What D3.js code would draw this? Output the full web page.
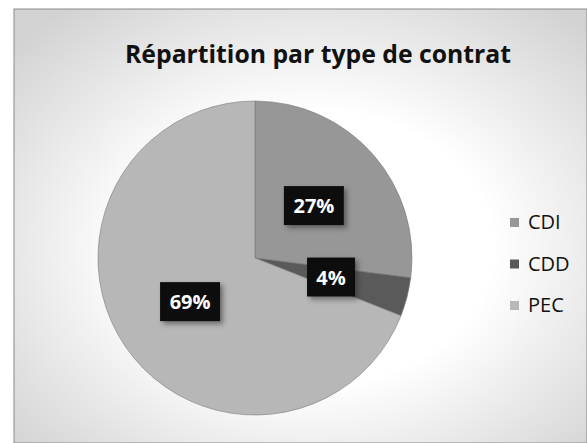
<!DOCTYPE html>
<html>
<head>
<meta charset="utf-8">
<script src="https://cdn.jsdelivr.net/npm/d3@7"></script>
<style>
  body { margin: 0; background: #fff; }
  svg { display: block; }
</style>
</head>
<body>
<div id="chart"></div>
<script>
// chart data
const categories = ["CDI", "CDD", "PEC"];
const values = [27, 4, 69];
const labels = ["27%", "4%", "69%"];
const colors = ["#979797", "#5a5a5a", "#b7b7b7"];

const width = 587, height = 443;
const cx = 255, cy = 258, radius = 157;

const svg = d3.select("#chart").append("svg")
    .attr("width", width)
    .attr("height", height);

// background of the chart area (scan looks grey at the corners)
const defs = svg.append("defs");
const bg = defs.append("radialGradient")
    .attr("id", "bg")
    .attr("cx", "52%").attr("cy", "55%").attr("r", "70%");
bg.append("stop").attr("offset", "45%").attr("stop-color", "#ffffff");
bg.append("stop").attr("offset", "100%").attr("stop-color", "#d2d2d2");

const shadow = defs.append("filter")
    .attr("id", "shadow")
    .attr("x", "-30%").attr("y", "-30%")
    .attr("width", "160%").attr("height", "160%");
shadow.append("feDropShadow")
    .attr("dx", 3).attr("dy", 3)
    .attr("stdDeviation", 2.5)
    .attr("flood-color", "#333")
    .attr("flood-opacity", 0.55);

svg.append("rect")
    .attr("x", 14).attr("y", 9)
    .attr("width", width - 14).attr("height", height - 9)
    .attr("fill", "url(#bg)")
    .attr("stroke", "#8a8a8a")
    .attr("stroke-width", 1);

// title
svg.append("text")
    .attr("x", 318)
    .attr("y", 63)
    .attr("text-anchor", "middle")
    .attr("font-family", "Open Sans, sans-serif")
    .attr("font-weight", "bold")
    .attr("font-size", 25)
    .attr("fill", "#111")
    .attr("textLength", 386)
    .attr("lengthAdjust", "spacingAndGlyphs")
    .text("Répartition par type de contrat");

// pie
const pie = d3.pie().sort(null).value(d => d.value);
const arc = d3.arc().innerRadius(0).outerRadius(radius);
const data = categories.map((c, i) => ({ name: c, value: values[i], label: labels[i], color: colors[i] }));
const arcs = pie(data);

const g = svg.append("g").attr("transform", `translate(${cx},${cy})`);

g.selectAll("path")
    .data(arcs)
    .join("path")
    .attr("d", arc)
    .attr("fill", d => d.data.color)
    .attr("stroke", "#7a7a7a")
    .attr("stroke-width", 0.6);

// data labels: black boxes with white text
const lab = g.selectAll("g.lab")
    .data(arcs)
    .join("g")
    .attr("class", "lab")
    .attr("transform", d => `translate(${arc.centroid(d)})`);

lab.append("rect")
    .attr("x", d => d.data.label.length > 2 ? -30 : -24)
    .attr("y", -20)
    .attr("width", d => d.data.label.length > 2 ? 60 : 48)
    .attr("height", 39)
    .attr("fill", "#111")
    .attr("filter", "url(#shadow)");

lab.append("text")
    .attr("text-anchor", "middle")
    .attr("dy", "0.36em")
    .attr("font-family", "Open Sans, sans-serif")
    .attr("font-weight", "bold")
    .attr("font-size", 20)
    .attr("fill", "#fff")
    .text(d => d.data.label);

// legend
const legendY = d3.scalePoint().domain(categories).range([222, 305]);

const leg = svg.append("g")
    .selectAll("g")
    .data(data)
    .join("g")
    .attr("transform", d => `translate(510,${legendY(d.name)})`);

leg.append("rect")
    .attr("x", 0).attr("y", -4)
    .attr("width", 9).attr("height", 9)
    .attr("fill", d => d.color);

leg.append("text")
    .attr("x", 18)
    .attr("dy", "0.36em")
    .attr("font-family", "Open Sans, sans-serif")
    .attr("font-size", 20)
    .attr("fill", "#111")
    .text(d => d.name);
</script>
</body>
</html>
